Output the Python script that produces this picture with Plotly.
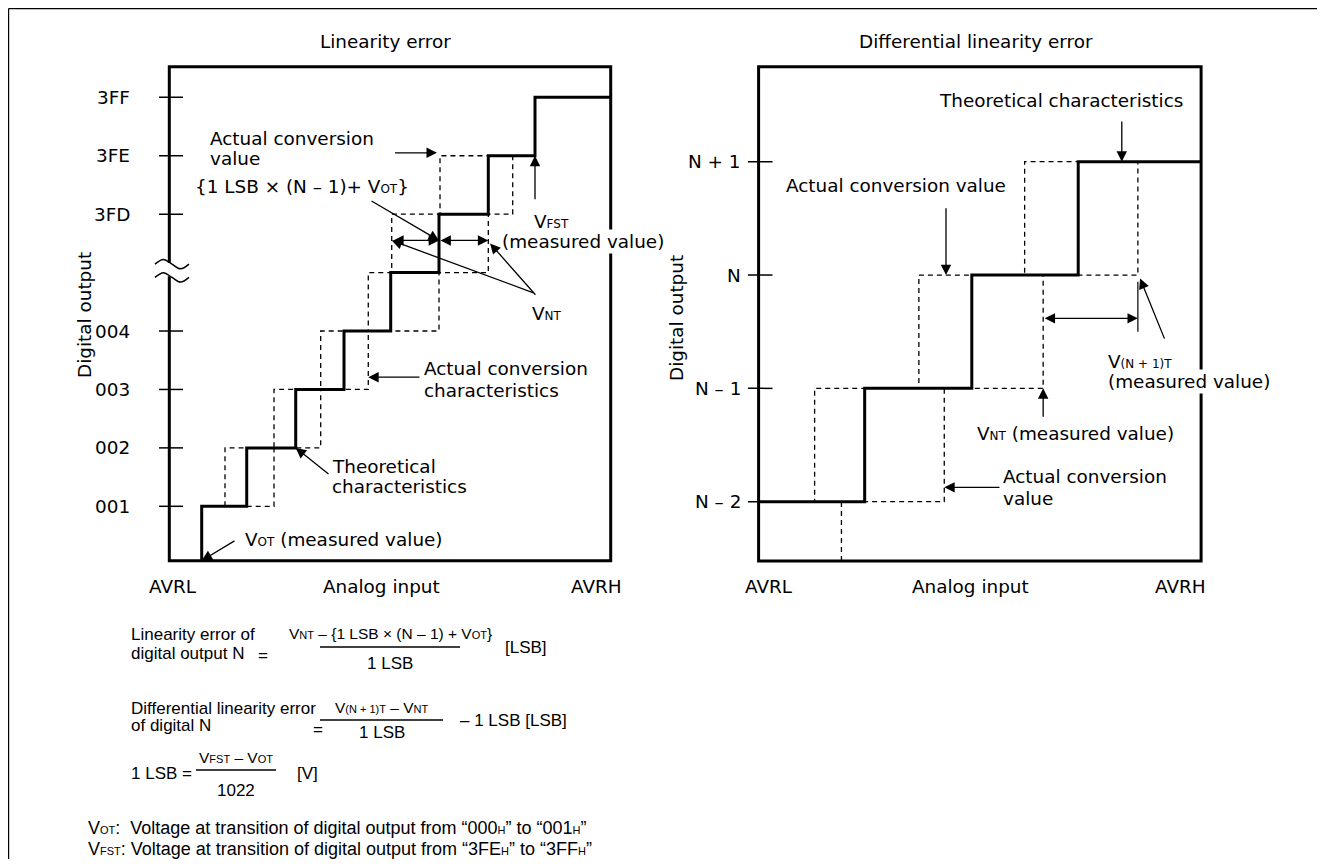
import plotly.graph_objects as go

OFF = 8                          # page body margin of the html page
WP, HP = 1325, 867               # browser window
W, H = WP - 2 * OFF, HP - 2 * OFF  # figure size (no scrollbars)
FONT = "DejaVu Sans"
FONT2 = "Liberation Sans"
FS = 18.4      # panel text size
FF = 17        # formula text size
FN = 15.5      # formula numerator size
FT = 18        # footnote size
SUB = 12       # small-caps subscript size

# ---------------- data: linearity error panel ----------------
lin_tick_levels = [1, 2, 3, 4, 6, 7, 8]
lin_tick_labels = ["001", "002", "003", "004", "3FD", "3FE", "3FF"]
# analog input in % of AVRL..AVRH span; transitions code k -> k+1
lin_theo_x = [7.34, 17.54, 28.64, 39.58, 50.16, 61.10, 72.27, 82.85]      # k = 0..7
lin_act_early_x = [12.62, 23.72, 34.30, 45.08, 50.39, 61.33]              # k = 1..6
lin_act_late_x = [23.72, 34.30, 45.08, 61.10, 72.27, 77.80]               # k = 1..6
lin_frame_y = (0.069, 8.524)
lin_break_levels = (5.145, 4.918)

# ---------------- data: differential linearity panel ----------------
dif_tick_levels = [-2, -1, 0, 1]
dif_tick_labels = ["N – 2", "N – 1", "N", "N + 1"]
dif_theo_x = [23.97, 48.18, 72.23]              # N-2->N-1, N-1->N, N->N+1
dif_act_early_x = [12.66, 36.22, 60.12]         # N-2->N-1, N-1->N, N->N+1
dif_act_late_x = [18.72, 41.96, 64.31, 85.71]   # N-3->N-2 ... N->N+1
dif_frame_y = (-2.523, 1.838)

# ---------------- layout geometry (page pixels) ----------------
LIN_BOX = (169.3, 66.7, 610.7, 560.7)   # left, top, right, bottom
DIF_BOX = (758.6, 66.7, 1201.1, 561.0)


def axis_range(d0, d1, f0, f1, v0, v1):
    k = (f1 - f0) / (v1 - v0)
    return [v0 - (f0 - d0) / k, v1 + (d1 - f1) / k]


def xr(box):
    return (box[2] - box[0]) / 100.0


MID = OFF + W / 2
lin_xrange = axis_range(OFF, MID, LIN_BOX[0], LIN_BOX[2], 0, 100)
lin_yrange = axis_range(HP - OFF - H, HP - OFF, HP - LIN_BOX[3], HP - LIN_BOX[1], *lin_frame_y)
dif_xrange = axis_range(MID, OFF + W, DIF_BOX[0], DIF_BOX[2], 0, 100)
dif_yrange = axis_range(HP - OFF - H, HP - OFF, HP - DIF_BOX[3], HP - DIF_BOX[1], *dif_frame_y)


def lin_px_x(px):
    return (px - LIN_BOX[0]) / xr(LIN_BOX)


def dif_px_x(px):
    return (px - DIF_BOX[0]) / xr(DIF_BOX)


def PX(px):
    return (px - OFF) / W


def PY(py):
    return 1 - (py - OFF) / H


def stairs(trans, levels, x_start, x_end):
    xs, ys = [x_start], [levels[0]]
    for i, t in enumerate(trans):
        xs += [t, t]
        ys += [levels[i], levels[i + 1]]
    xs.append(x_end)
    ys.append(levels[-1])
    return xs, ys


fig = go.Figure()
DASH = dict(color="black", width=1.3, dash="5px,4px")
SOLID = dict(color="black", width=3)


def add_line(xs, ys, line, ax="x", ay="y", shape="linear"):
    fig.add_trace(go.Scatter(x=xs, y=ys, mode="lines", line=dict(**line, shape=shape),
                             xaxis=ax, yaxis=ay, hoverinfo="skip", showlegend=False))


# ---- left panel ----
add_line(*stairs(lin_act_early_x, list(range(1, 8)), lin_act_early_x[0], lin_theo_x[6]), DASH)
add_line(*stairs(lin_act_late_x, list(range(1, 8)), lin_theo_x[0], lin_theo_x[7]), DASH)
add_line(*stairs(lin_theo_x, [lin_frame_y[0]] + list(range(1, 9)), lin_theo_x[0], 100), SOLID)

yb, yt = lin_frame_y
add_line([0, 0, 100, 100, 0, 0], [lin_break_levels[0] + 0.02, yt, yt, yb, yb, lin_break_levels[1] + 0.02],
         dict(color="black", width=3))
tx0, tx1 = lin_px_x(159), lin_px_x(183)
tx, ty = [], []
for lv in lin_tick_levels:
    tx += [tx0, tx1, None]
    ty += [lv, lv, None]
add_line(tx, ty, dict(color="black", width=1.5))
bx = [lin_px_x(p) for p in (155, 163.5, 172, 180.5, 189)]
for lv in lin_break_levels:
    add_line(bx, [lv, lv + 0.08, lv, lv - 0.08, lv], dict(color="black", width=1.5, smoothing=1.0),
             shape="spline")

# ---- right panel ----
add_line(*stairs(dif_act_early_x, [-2, -1, 0, 1], 0, dif_theo_x[2]), DASH, "x2", "y2")
add_line(*stairs(dif_act_late_x, [dif_frame_y[0], -2, -1, 0, 1], dif_act_late_x[0], 100), DASH, "x2", "y2")
add_line(*stairs(dif_theo_x, [-2, -1, 0, 1], 0, 100), SOLID, "x2", "y2")
yb2, yt2 = dif_frame_y
add_line([0, 0, 100, 100, 0, 0], [yb2, yt2, yt2, yb2, yb2, yt2], dict(color="black", width=3), "x2", "y2")
tx0, tx1 = dif_px_x(747.9), dif_px_x(772.5)
tx, ty = [], []
for lv in dif_tick_levels:
    tx += [tx0, tx1, None]
    ty += [lv, lv, None]
add_line(tx, ty, dict(color="black", width=1.5), "x2", "y2")
add_line([dif_act_late_x[3]] * 2, [-0.06, -0.5], dict(color="black", width=1.2), "x2", "y2")

# ---------------- annotations ----------------
ann = []


def sm(s, size=SUB):
    return f"<span style='font-size:{size}px'>{s}</span>"


def txt(xp, yp, text, size=FS, xanchor="left", family=FONT, **kw):
    ann.append(dict(x=PX(xp), y=PY(yp), xref="paper", yref="paper", text=text, showarrow=False,
                    xanchor=xanchor, yanchor="middle", font=dict(family=family, size=size, color="black"),
                    **kw))


def ftxt(xp, yp, text, size=FF, xanchor="left"):
    txt(xp, yp, text, size, xanchor, family=FONT2)


def arrow(x, y, ax, ay, xref="x", yref="y", both=False, **kw):
    d = dict(x=x, y=y, ax=ax, ay=ay, xref=xref, yref=yref, text="", showarrow=True,
             arrowhead=2, arrowsize=1.6, arrowwidth=1.3, arrowcolor="black",
             arrowside="end+start" if both else "end", standoff=0, startstandoff=0)
    d.update(kw)
    ann.append(d)


# left panel texts
txt(385.7, 41, "Linearity error", xanchor="center")
txt(208.3, 138.3, "Actual conversion")
txt(208.3, 158.3, "value")
txt(193.3, 186.7, "{1 LSB × (N – 1)+ V" + sm("OT") + "}")
txt(531.7, 221.7, "V" + sm("FST"))
txt(500, 241.7, "(measured value)", bgcolor="white")
txt(530, 313.3, "V" + sm("NT"))
txt(421.7, 368.3, "Actual conversion")
txt(421.7, 390, "characteristics")
txt(330, 466.7, "Theoretical")
txt(330, 486.7, "characteristics")
txt(243.3, 539, "V" + sm("OT") + " (measured value)")
txt(84, 315, "Digital output", xanchor="center", textangle=-90)
txt(173.3, 586.7, "AVRL", xanchor="center")
txt(381, 586.7, "Analog input", xanchor="center")
txt(596.2, 586.7, "AVRH", xanchor="center")
for lv, lab in zip(lin_tick_levels, lin_tick_labels):
    ann.append(dict(x=lin_px_x(132), y=lv, xref="x", yref="y", text=lab, showarrow=False,
                    xanchor="right", yanchor="middle", font=dict(family=FONT, size=FS, color="black")))

# left panel arrows
dim_y = 5.55
arrow(lin_act_early_x[5] - 0.7, 7.05, -43.4, 0)
arrow(lin_theo_x[5], dim_y, -69, -40.4)
arrow(lin_theo_x[5], dim_y, lin_act_early_x[4], dim_y, axref="x", ayref="y", both=True)
arrow(lin_theo_x[6], dim_y, lin_theo_x[5], dim_y, axref="x", ayref="y", both=True)
arrow(lin_act_early_x[4], dim_y, 143.3, 52.9)
arrow(lin_theo_x[6] + 0.4, dim_y - 0.05, 46.7, 52.9)
arrow(lin_theo_x[7], 7, 0, 45)
arrow(lin_act_late_x[2], 3.21, 52.7, 0)
arrow(lin_theo_x[2], 2, 34.3, 27.3)
arrow(lin_theo_x[0], lin_frame_y[0], 34.3, -20.7)

# right panel texts
txt(976.3, 41, "Differential linearity error", xanchor="center")
txt(1061, 100, "Theoretical characteristics", xanchor="center")
txt(784.3, 185, "Actual conversion value")
txt(1105.7, 361.7, "V" + sm("(N + 1)T"))
txt(1105.7, 381.7, "(measured value)", bgcolor="white")
txt(975.4, 433.3, "V" + sm("NT") + " (measured value)")
txt(1001.4, 476.7, "Actual conversion")
txt(1001.4, 498.3, "value")
txt(676, 318, "Digital output", xanchor="center", textangle=-90)
txt(769, 586.7, "AVRL", xanchor="center")
txt(970, 586.7, "Analog input", xanchor="center")
txt(1180.6, 586.7, "AVRH", xanchor="center")
for lv, lab in zip(dif_tick_levels, dif_tick_labels):
    ann.append(dict(x=dif_px_x(743.2), y=lv, xref="x2", yref="y2", text=lab, showarrow=False,
                    xanchor="right", yanchor="middle", font=dict(family=FONT, size=FS, color="black")))

# right panel arrows
arrow(dif_px_x(1121.8), 1, 0, -41.7, "x2", "y2")
arrow(dif_px_x(946), 0, 0, -68.3, "x2", "y2")
arrow(dif_act_late_x[3], -0.382, dif_act_late_x[2], -0.382, "x2", "y2", both=True, axref="x2", ayref="y2")
arrow(dif_act_late_x[3] + 0.5, -0.03, 25, 61.7, "x2", "y2")
arrow(dif_act_late_x[2], -1, 0, 30, "x2", "y2")
arrow(dif_act_late_x[1], -1.873, 56.7, 0, "x2", "y2")

# formulas
S2 = 11
ftxt(129, 634, "Linearity error of")
ftxt(129, 653, "digital output N")
ftxt(263, 655, "=", xanchor="center")
ftxt(390, 633, "V" + sm("NT", S2) + " – {1 LSB × (N – 1) + V" + sm("OT", S2) + "}", FN, xanchor="center")
ftxt(390, 663, "1 LSB", xanchor="center")
ftxt(503, 647, "[LSB]")

ftxt(129, 708, "Differential linearity error")
ftxt(129, 725, "of digital N")
ftxt(318, 729, "=", xanchor="center")
ftxt(382, 707, "V" + sm("(N + 1)T", S2) + " – V" + sm("NT", S2), FN, xanchor="center")
ftxt(382, 732, "1 LSB", xanchor="center")
ftxt(458, 720, "– 1 LSB [LSB]")

ftxt(129, 773, "1 LSB")
ftxt(187, 773, "=", xanchor="center")
ftxt(236, 757, "V" + sm("FST", S2) + " – V" + sm("OT", S2), FN, xanchor="center")
ftxt(236, 790, "1022", xanchor="center")
ftxt(295, 773, "[V]")

ftxt(86, 828, "V" + sm("OT", S2) + ":  Voltage at transition of digital output from “000" + sm("H", S2) + "” to “001" + sm("H", S2) + "”", FT)
ftxt(86, 849, "V" + sm("FST", S2) + ": Voltage at transition of digital output from “3FE" + sm("H", S2) + "” to “3FF" + sm("H", S2) + "”", FT)

shapes = []
for x0, x1, yy in [(320, 460, 647), (320, 443, 720), (196, 276, 770)]:
    shapes.append(dict(type="line", xref="paper", yref="paper", x0=PX(x0), x1=PX(x1),
                       y0=PY(yy), y1=PY(yy), line=dict(color="black", width=1.3)))
# outer border (top and left edges)
shapes.append(dict(type="line", xref="paper", yref="paper", x0=PX(8.6), x1=1, y0=PY(8.6), y1=PY(8.6),
                   line=dict(color="black", width=1.2)))
shapes.append(dict(type="line", xref="paper", yref="paper", x0=PX(8.6), x1=PX(8.6), y0=0, y1=PY(8.6),
                   line=dict(color="black", width=1.2)))

hidden = dict(visible=False, fixedrange=True)
fig.update_layout(
    width=W, height=H, margin=dict(l=0, r=0, t=0, b=0, pad=0),
    paper_bgcolor="white", plot_bgcolor="rgba(0,0,0,0)", showlegend=False,
    xaxis=dict(domain=[0, 0.5], range=lin_xrange, anchor="y", **hidden),
    yaxis=dict(domain=[0, 1], range=lin_yrange, anchor="x", **hidden),
    xaxis2=dict(domain=[0.5, 1], range=dif_xrange, anchor="y2", **hidden),
    yaxis2=dict(domain=[0, 1], range=dif_yrange, anchor="x2", **hidden),
    annotations=ann, shapes=shapes,
)
fig.write_html("out.html")
